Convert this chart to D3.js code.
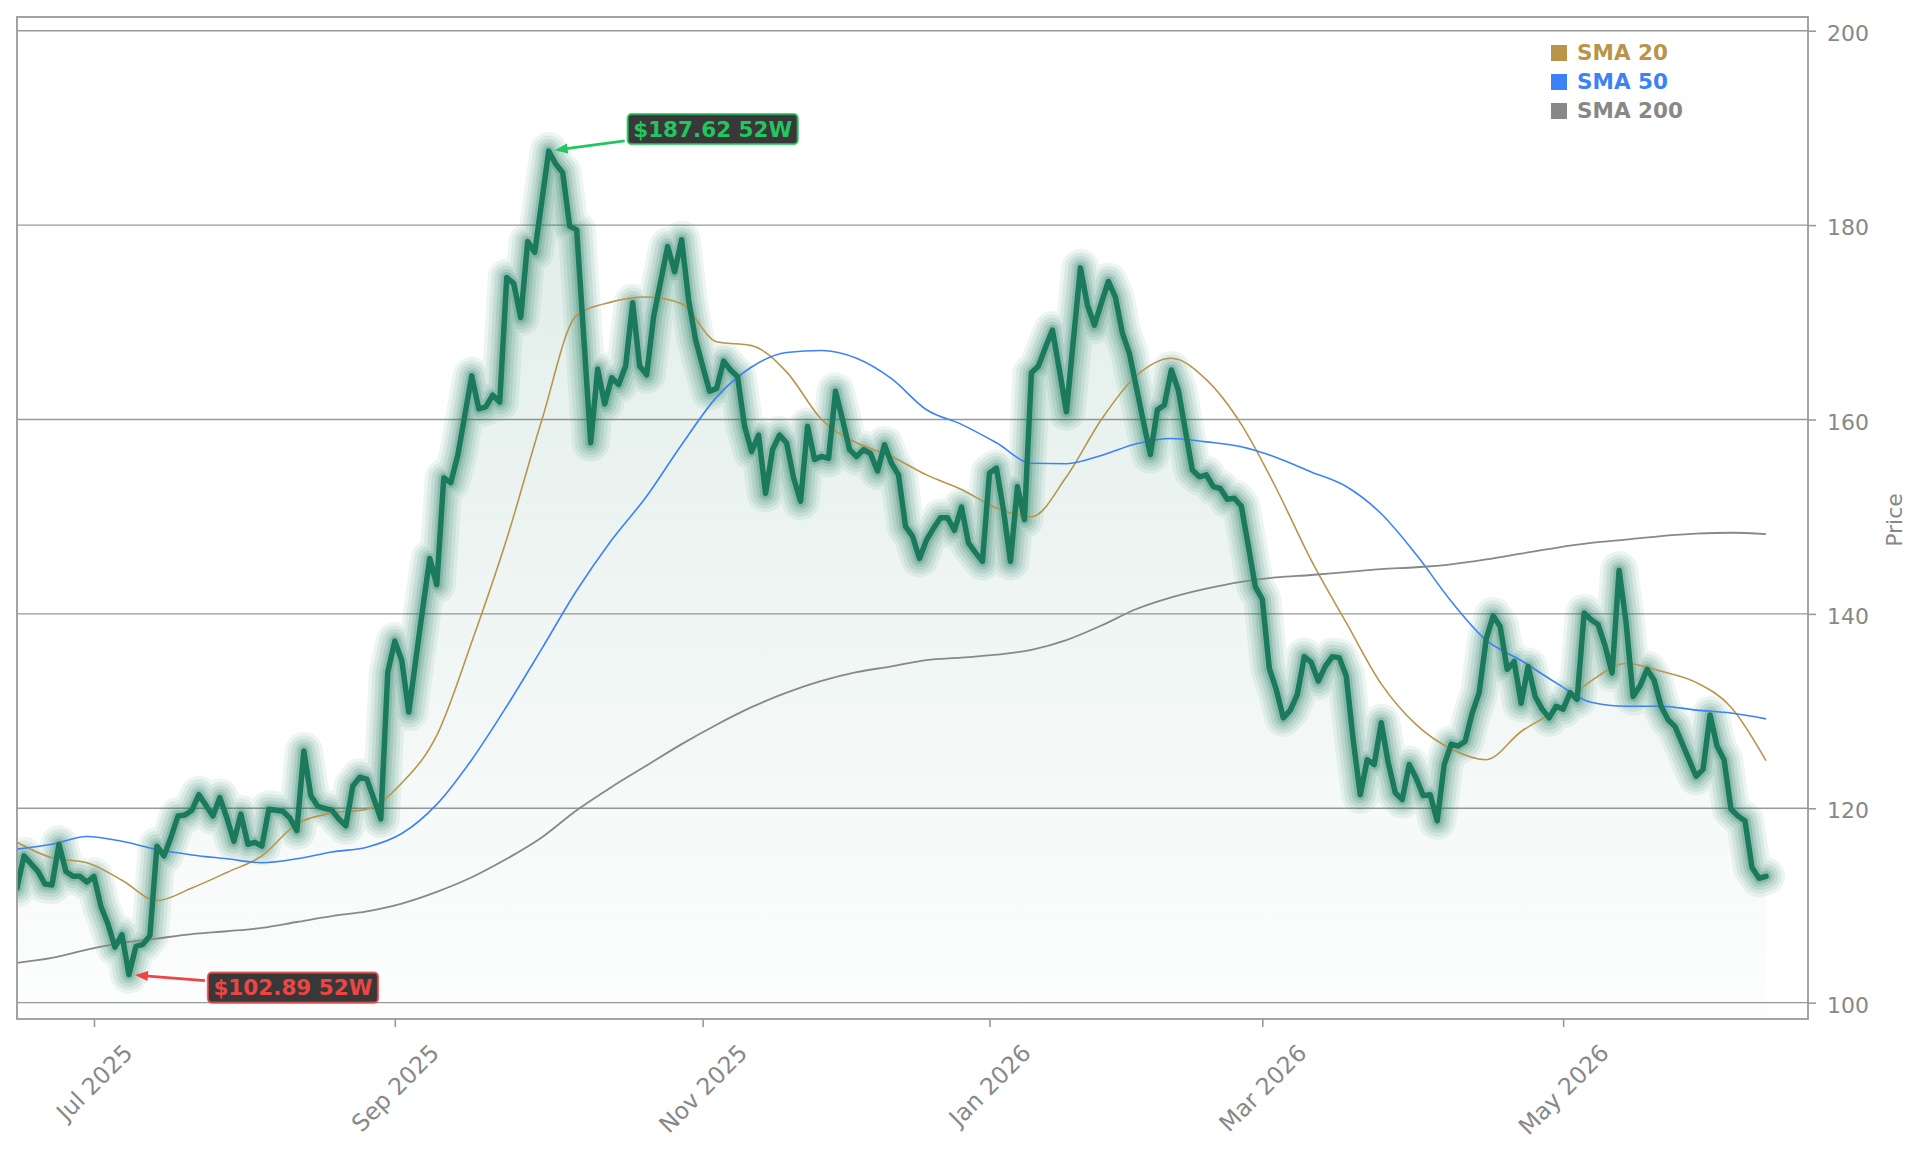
<!DOCTYPE html>
<html>
<head>
<meta charset="utf-8">
<script src="https://cdn.jsdelivr.net/npm/d3@7"></script>
<style>
  body { margin: 0; background: #fff; }
  svg { display: block; }
  text { font-family: "DejaVu Sans", sans-serif; }
</style>
</head>
<body>
<div class="canvas"></div>
<script>
// daily closes, one per trading day from 13 Jun 2025
const closes = [
  111.8,115.1,114.3,113.5,112.2,112.1,116.3,113.5,113.0,113.0,
  112.4,113.0,109.9,108.1,105.7,107.0,102.89,105.8,106.0,106.9,
  116.1,115.1,117.0,119.2,119.3,119.8,121.4,120.3,119.2,121.1,
  119.0,116.6,119.4,116.3,116.5,116.1,119.9,119.8,119.7,119.0,
  117.7,125.9,121.3,120.2,120.0,119.8,118.9,118.2,122.3,123.2,
  123.0,121.0,118.9,134.0,137.2,135.2,129.9,135.3,140.6,145.7,
  143.0,154.0,153.5,156.3,160.4,164.5,161.1,161.3,162.5,161.8,
  174.6,174.0,170.5,178.3,177.2,182.4,187.62,186.3,185.4,179.9,
  179.5,168.6,157.6,165.2,161.6,164.3,163.6,165.5,172.0,165.5,
  164.6,170.6,174.2,177.8,175.2,178.5,172.3,168.2,165.5,162.9,
  163.2,166.0,165.1,164.4,159.3,156.7,158.4,152.4,156.9,158.4,
  157.6,154.0,151.6,159.3,155.9,156.2,156.0,162.9,160.0,156.9,
  156.2,156.9,156.5,154.7,157.4,155.5,154.3,149.0,148.0,145.7,
  147.6,148.8,149.9,149.9,148.6,151.0,147.3,146.3,145.4,154.5,
  155.0,150.7,145.4,153.1,149.7,164.8,165.5,167.4,169.2,165.1,
  160.8,168.2,175.6,171.8,169.7,172.0,174.2,172.6,168.9,166.8,
  163.3,159.8,156.4,161.0,161.5,165.1,163.0,158.9,154.8,154.1,
  154.3,153.1,152.9,151.8,151.9,151.1,147.0,142.8,141.5,134.4,
  132.2,129.3,130.1,131.7,135.6,135.0,133.1,134.6,135.6,135.5,
  133.6,127.0,121.4,125.0,124.5,128.8,124.7,121.6,120.9,124.5,
  123.1,121.3,121.4,118.7,124.5,126.6,126.4,126.9,129.8,131.9,
  137.4,139.8,138.7,134.3,135.1,130.8,134.6,131.5,130.2,129.3,
  130.5,130.2,131.9,131.2,140.1,139.4,138.9,136.7,133.9,144.5,
  139.1,131.5,132.6,134.3,133.2,130.5,129.1,128.4,126.7,125.0,
  123.3,124.0,129.6,126.4,125.0,119.9,119.2,118.7,113.9,112.8,
  113.0
];

// moving averages, read every 5th trading day
const smaIdx = [0,5,10,15,20,25,30,35,40,45,50,55,60,65,70,75,80,85,90,95,
  100,105,110,115,120,125,130,135,140,145,150,155,160,165,170,175,180,185,190,195,
  200,205,210,215,220,225,230,235,240,245,250];
const sma20 = [
  116.5,114.9,114.4,112.6,110.5,111.8,113.4,115.1,118.4,119.5,
  119.9,122.6,127.5,137.1,147.7,159.9,170.7,172.1,172.6,171.9,
  168.0,167.6,164.9,160.0,157.6,156.2,154.3,152.8,150.9,150.0,
  154.1,160.0,164.5,166.3,164.1,159.5,152.9,145.5,139.1,132.8,
  128.6,126.1,125.0,127.9,130.1,133.1,134.9,134.1,132.95,130.4,
  124.9];
const sma50 = [
  115.8,116.3,117.1,116.6,115.75,115.2,114.8,114.4,114.8,115.5,
  116.0,117.4,120.4,125.0,130.5,136.4,142.4,147.6,152.1,157.4,
  162.3,165.4,166.9,167.1,166.3,164.2,161.0,159.5,157.6,155.5,
  155.45,156.3,157.5,158.05,157.7,157.2,156.1,154.6,153.1,150.3,
  146.1,141.3,137.3,135.2,132.9,130.9,130.5,130.5,130.1,129.8,
  129.2];
const sma200 = [
  104.1,104.6,105.45,106.15,106.6,107.05,107.35,107.7,108.3,108.9,
  109.4,110.2,111.4,112.9,114.8,117.0,119.8,122.2,124.4,126.6,
  128.6,130.4,131.9,133.1,134.0,134.6,135.25,135.5,135.8,136.3,
  137.3,138.8,140.5,141.7,142.6,143.3,143.75,144.0,144.3,144.6,
  144.8,145.1,145.6,146.2,146.8,147.3,147.65,148.0,148.25,148.35,
  148.2];

const smaNames = ["SMA 20", "SMA 50", "SMA 200"];
const smaColors = ["#b8954b", "#3b82f6", "#888888"];

const startDay = "2025-06-13";
const holidays = ["2025-06-19","2025-07-04","2025-09-01","2025-11-27","2025-12-25",
  "2026-01-01","2026-01-19","2026-02-16","2026-04-03","2026-05-25"];
const tickMonths = ["2025-07","2025-09","2025-11","2026-01","2026-03","2026-05"];
const yTicks = [100, 120, 140, 160, 180, 200];

const dims = {width: 1921, height: 1153};
const box = {left: 17, right: 1808, top: 17, bottom: 1019};
const lineColor = "#1b7a5c";

// trading calendar
const parseDay = d3.utcParse("%Y-%m-%d");
const fmtDay = d3.utcFormat("%Y-%m-%d");
const fmtMonth = d3.utcFormat("%Y-%m");
const dates = d3.utcDay.range(parseDay(startDay), parseDay("2026-07-01"))
  .filter(d => d.getUTCDay() % 6 !== 0 && !holidays.includes(fmtDay(d)))
  .slice(0, closes.length);
const tickIdx = tickMonths.map(m => dates.findIndex(d => fmtMonth(d) === m));

const svg = d3.select(".canvas").append("svg")
  .attr("width", dims.width)
  .attr("height", dims.height);

const x = d3.scaleLinear().domain([0, dates.length + 5]).range([box.left, box.right]);
const y = d3.scaleLinear().domain([98.32, 201.41]).range([box.bottom, box.top]);

const defs = svg.append("defs");
defs.append("clipPath").attr("id", "plotclip")
  .append("rect")
  .attr("x", box.left).attr("y", box.top)
  .attr("width", box.right - box.left).attr("height", box.bottom - box.top);

const hiIdx = d3.maxIndex(closes);
const loIdx = d3.minIndex(closes);

const grad = defs.append("linearGradient").attr("id", "fillgrad")
  .attr("gradientUnits", "userSpaceOnUse")
  .attr("x1", 0).attr("x2", 0)
  .attr("y1", y(closes[hiIdx])).attr("y2", box.bottom);
grad.append("stop").attr("offset", 0).attr("stop-color", lineColor).attr("stop-opacity", 0.14);
grad.append("stop").attr("offset", 1).attr("stop-color", lineColor).attr("stop-opacity", 0.01);

// grid lines
svg.append("g").selectAll("line")
  .data(yTicks).enter().append("line")
  .attr("x1", box.left).attr("x2", box.right)
  .attr("y1", d => y(d)).attr("y2", d => y(d))
  .attr("stroke", "#999").attr("stroke-width", 1.4);

const plot = svg.append("g").attr("clip-path", "url(#plotclip)");

// area under price
plot.append("path")
  .datum(closes)
  .attr("fill", "url(#fillgrad)")
  .attr("d", d3.area().x((d, i) => x(i)).y0(box.bottom).y1(d => y(d)));

const priceLine = d3.line().x((d, i) => x(i)).y(d => y(d));

// glow around the price line
const glow = [[38, 0.08], [31, 0.09], [24, 0.11], [17, 0.14], [11, 0.2]];
plot.append("g").selectAll("path")
  .data(glow).enter().append("path")
  .attr("d", priceLine(closes))
  .attr("fill", "none")
  .attr("stroke", lineColor)
  .attr("stroke-width", d => d[0])
  .attr("stroke-opacity", d => d[1])
  .attr("stroke-linejoin", "round")
  .attr("stroke-linecap", "round");

// moving averages
const smaLine = d3.line()
  .x((d, i) => x(smaIdx[i]))
  .y(d => y(d))
  .curve(d3.curveMonotoneX);
[sma20, sma50, sma200].forEach((s, k) => {
  plot.append("path")
    .attr("d", smaLine(s))
    .attr("fill", "none")
    .attr("stroke", smaColors[k])
    .attr("stroke-width", k === 2 ? 1.8 : 1.6);
});

plot.append("path")
  .attr("d", priceLine(closes))
  .attr("fill", "none")
  .attr("stroke", lineColor)
  .attr("stroke-width", 5.5)
  .attr("stroke-linejoin", "round")
  .attr("stroke-linecap", "round");

// frame
svg.append("rect")
  .attr("x", box.left).attr("y", box.top)
  .attr("width", box.right - box.left).attr("height", box.bottom - box.top)
  .attr("fill", "none").attr("stroke", "#999").attr("stroke-width", 1.8);

// y axis on the right
const yAxis = svg.append("g")
  .attr("transform", `translate(${box.right},0)`)
  .call(d3.axisRight(y).tickValues(yTicks).tickSize(8).tickPadding(11));
yAxis.select(".domain").remove();
yAxis.selectAll("line").attr("stroke", "#999").attr("stroke-width", 1.6);
yAxis.selectAll("text")
  .attr("fill", "#888").attr("font-size", 22).attr("dy", "0.44em")
  .style("font-family", "DejaVu Sans");

// x axis
const xAxis = svg.append("g")
  .attr("transform", `translate(0,${box.bottom})`)
  .call(d3.axisBottom(x).tickValues(tickIdx)
    .tickFormat((d, i) => d3.utcFormat("%b %Y")(dates[tickIdx[i]])).tickSize(8));
xAxis.select(".domain").remove();
xAxis.selectAll("line").attr("stroke", "#999").attr("stroke-width", 1.6);
xAxis.selectAll("text")
  .attr("fill", "#888").attr("font-size", 23.5)
  .style("font-family", "DejaVu Sans")
  .attr("y", 0).attr("dy", "0.346em")
  .attr("transform", function() {
    const len = this.getComputedTextLength();
    return `translate(0,${20 + (len + 27.3) * 0.3536}) rotate(-45)`;
  });

svg.append("text")
  .attr("transform", `translate(1902,520) rotate(-90)`)
  .attr("text-anchor", "middle")
  .attr("font-size", 22)
  .attr("fill", "#888")
  .text("Price");

// legend
const legend = svg.append("g").attr("transform", "translate(1551,53)");
smaNames.forEach((name, k) => {
  const row = legend.append("g").attr("transform", `translate(0,${k * 29})`);
  row.append("rect").attr("x", 0).attr("y", -8).attr("width", 16).attr("height", 16)
    .attr("fill", smaColors[k]);
  row.append("text").attr("x", 26).attr("y", 7)
    .attr("font-size", 21.5).attr("font-weight", "bold")
    .attr("fill", smaColors[k]).text(name);
});

// 52 week high / low callouts
const callouts = [
  {i: hiIdx, dx: 164, dy: -22, color: "#22c55e", label: `$${closes[hiIdx].toFixed(2)} 52W`},
  {i: loIdx, dx: 164, dy: 13, color: "#ef4444", label: `$${closes[loIdx].toFixed(2)} 52W`}
];
callouts.forEach(c => {
  const px = x(c.i), py = y(closes[c.i]);
  const cx = px + c.dx, cy = py + c.dy;
  const g = svg.append("g");
  const rect = g.append("rect");
  const txt = g.append("text")
    .attr("x", cx).attr("y", cy + 7.7)
    .attr("text-anchor", "middle")
    .attr("font-size", 21.5).attr("font-weight", "bold")
    .attr("fill", c.color).text(c.label);
  const w = txt.node().getComputedTextLength() + 11;
  const h = 30;
  rect.attr("x", cx - w / 2).attr("y", cy - h / 2)
    .attr("width", w).attr("height", h).attr("rx", 4)
    .attr("fill", "#2d2d2d").attr("fill-opacity", 0.95)
    .attr("stroke", c.color).attr("stroke-opacity", 0.8).attr("stroke-width", 2.2);
  txt.raise();

  // arrow from box edge to the point
  const vx = px - cx, vy = py - cy;
  const len = Math.hypot(vx, vy);
  const ux = vx / len, uy = vy / len;
  const tEdge = Math.min((w / 2) / Math.abs(vx), (h / 2) / Math.abs(vy));
  const sx = cx + vx * tEdge + ux * 3, sy = cy + vy * tEdge + uy * 3;
  const tx = px - ux * 6, ty = py - uy * 6;
  const nx = -uy, ny = ux;
  svg.append("line")
    .attr("x1", sx).attr("y1", sy)
    .attr("x2", tx - ux * 10).attr("y2", ty - uy * 10)
    .attr("stroke", c.color).attr("stroke-width", 2.8);
  svg.append("path")
    .attr("d", `M${tx},${ty}L${tx - ux * 13 + nx * 5},${ty - uy * 13 + ny * 5}L${tx - ux * 13 - nx * 5},${ty - uy * 13 - ny * 5}Z`)
    .attr("fill", c.color);
});
</script>
</body>
</html>
